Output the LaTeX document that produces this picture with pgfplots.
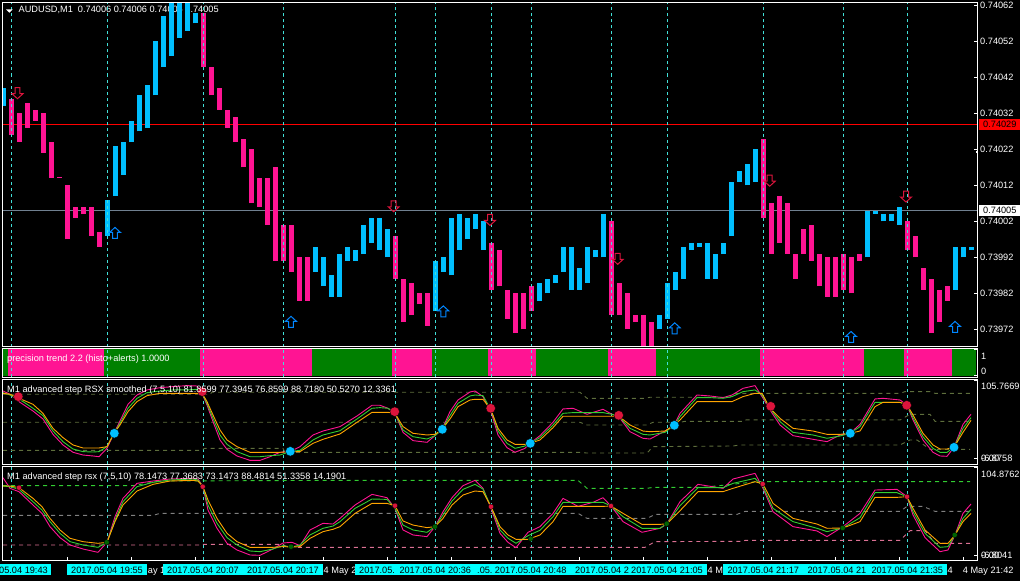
\documentclass[border=0pt]{standalone}
\usepackage{fontspec}
\setmainfont{Liberation Sans}
\usepackage{pgfplots}
\usepackage{pgfplotstable}
\pgfplotsset{compat=1.18}
\definecolor{barblue}{HTML}{00BFFF}
\definecolor{barpink}{HTML}{FF1493}
\definecolor{trgreen}{HTML}{008000}
\definecolor{vlinec}{HTML}{40E0D8}
\definecolor{lvolive}{HTML}{5E6E3C}
\definecolor{lvgreen}{HTML}{32CD32}
\definecolor{lvgray}{HTML}{808080}
\definecolor{lvpink}{HTML}{DB7093}
\definecolor{crimsonc}{HTML}{DC143C}
\definecolor{dkgreen}{HTML}{006400}
\definecolor{slategr}{HTML}{708090}
\definecolor{linegreen}{HTML}{32CD32}
\definecolor{lineorange}{HTML}{FFA500}
\definecolor{aquac}{HTML}{00FFFF}
\definecolor{purered}{HTML}{FF0000}
\newcommand\lab{\fontsize{9.2bp}{11bp}\selectfont}

\pgfdeclareplotmark{uparr}{%
  \pgfpathmoveto{\pgfqpoint{0pt}{5.5pt}}%
  \pgfpathlineto{\pgfqpoint{5.5pt}{0.5pt}}%
  \pgfpathlineto{\pgfqpoint{2.5pt}{0.5pt}}%
  \pgfpathlineto{\pgfqpoint{2.5pt}{-5.5pt}}%
  \pgfpathlineto{\pgfqpoint{-2.5pt}{-5.5pt}}%
  \pgfpathlineto{\pgfqpoint{-2.5pt}{0.5pt}}%
  \pgfpathlineto{\pgfqpoint{-5.5pt}{0.5pt}}%
  \pgfpathclose\pgfusepathqstroke}
\pgfdeclareplotmark{dnarr}{%
  \pgfpathmoveto{\pgfqpoint{0pt}{-5.5pt}}%
  \pgfpathlineto{\pgfqpoint{5.5pt}{-0.5pt}}%
  \pgfpathlineto{\pgfqpoint{2.5pt}{-0.5pt}}%
  \pgfpathlineto{\pgfqpoint{2.5pt}{5.5pt}}%
  \pgfpathlineto{\pgfqpoint{-2.5pt}{5.5pt}}%
  \pgfpathlineto{\pgfqpoint{-2.5pt}{-0.5pt}}%
  \pgfpathlineto{\pgfqpoint{-5.5pt}{-0.5pt}}%
  \pgfpathclose\pgfusepathqstroke}

\pgfplotstableread{
x lo hi
3.5 0.74034 0.74039
107.5 0.73998 0.74008
115.5 0.74009 0.74023
123.5 0.74015 0.74024
131.5 0.74024 0.74030
139.5 0.74027 0.74037
147.5 0.74028 0.74040
155.5 0.74037 0.74052
163.5 0.74045 0.74059
171.5 0.74048 0.74064
179.5 0.74053 0.74066
187.5 0.74055 0.74064
195.5 0.74057 0.74060
315.5 0.73988 0.73995
323.5 0.73984 0.73992
331.5 0.73981 0.73987
339.5 0.73981 0.73993
347.5 0.73991 0.73995
355.5 0.73991 0.73994
363.5 0.73993 0.74001
371.5 0.73996 0.74003
379.5 0.73994 0.74003
387.5 0.73992 0.74000
435.5 0.73977 0.73991
443.5 0.73988 0.73992
451.5 0.73987 0.74003
459.5 0.73994 0.74004
467.5 0.73997 0.74003
475.5 0.74000 0.74004
483.5 0.73994 0.74002
539.5 0.73980 0.73985
547.5 0.73982 0.73986
555.5 0.73985 0.73987
563.5 0.73988 0.73995
571.5 0.73983 0.73995
579.5 0.73983 0.73989
587.5 0.73985 0.73995
595.5 0.73992 0.73994
603.5 0.73992 0.74004
659.5 0.73972 0.73976
667.5 0.73975 0.73985
675.5 0.73983 0.73988
683.5 0.73986 0.73995
691.5 0.73994 0.73996
699.5 0.73995 0.73996
707.5 0.73986 0.73996
715.5 0.73986 0.73993
723.5 0.73993 0.73996
731.5 0.73998 0.74013
739.5 0.74013 0.74016
747.5 0.74012 0.74018
755.5 0.74013 0.74022
867.5 0.73992 0.74005
875.5 0.74004 0.74005
883.5 0.74002 0.74004
891.5 0.74002 0.74004
899.5 0.74001 0.74006
955.5 0.73983 0.73995
963.5 0.73992 0.73995
971.5 0.73994 0.73995
}\bluebars

\pgfplotstableread{
x lo hi
11.5 0.74026 0.74036
19.5 0.74024 0.74032
27.5 0.74028 0.74035
35.5 0.74030 0.74033
43.5 0.74021 0.74032
51.5 0.74014 0.74024
59.5 0.74014 0.740143
67.5 0.73997 0.74012
75.5 0.74003 0.74006
83.5 0.74004 0.74006
91.5 0.73998 0.74006
99.5 0.73995 0.73999
203.5 0.74045 0.74060
211.5 0.74037 0.74045
219.5 0.74033 0.74039
227.5 0.74028 0.74033
235.5 0.74024 0.74031
243.5 0.74017 0.74025
251.5 0.74007 0.74022
259.5 0.74006 0.74014
267.5 0.74001 0.74014
275.5 0.73991 0.74017
283.5 0.73991 0.74001
291.5 0.73988 0.74001
299.5 0.73980 0.73992
307.5 0.73980 0.73992
395.5 0.73986 0.73998
403.5 0.73974 0.73986
411.5 0.73976 0.73985
419.5 0.73979 0.73982
427.5 0.73973 0.73982
491.5 0.73983 0.73996
499.5 0.73984 0.73994
507.5 0.73975 0.73983
515.5 0.73971 0.73982
523.5 0.73972 0.73982
531.5 0.73977 0.73984
611.5 0.73976 0.74002
619.5 0.73976 0.73985
627.5 0.73972 0.73982
635.5 0.73974 0.73976
643.5 0.73966 0.73976
651.5 0.73966 0.73974
763.5 0.74003 0.74025
771.5 0.73993 0.74007
779.5 0.73996 0.74009
787.5 0.73993 0.74007
795.5 0.73986 0.73993
803.5 0.73993 0.74000
811.5 0.73991 0.74001
819.5 0.73984 0.73993
827.5 0.73981 0.73992
835.5 0.73981 0.73992
843.5 0.73983 0.73993
851.5 0.73982 0.73992
859.5 0.73991 0.73993
907.5 0.73994 0.74002
915.5 0.73992 0.73998
923.5 0.73983 0.73989
931.5 0.73971 0.73986
939.5 0.73974 0.73983
947.5 0.73980 0.73984
}\pinkbars

\pgfplotstableread{
x o g p
3 88.7 89.6 91.9
10 87.4 86.4 87.4
18 82.8 81.0 78.3
23 79.6 77.4 73.7
33 73.7 68.3 64.6
43 61.4 58.3 53.7
53 41.0 37.3 32.8
63 28.3 22.8 18.3
73 18.3 12.8 8.3
83 14.2 9.2 4.6
93 14.2 8.7 3.3
99 14.2 9.2 2.3
107 16.0 16.0 13.7
114 34.2 34.2 34.2
120 45.5 47.8 51.0
128 63.7 68.3 73.7
137 77.4 81.9 86.4
147 85.5 89.6 93.3
160 88.7 91.9 96.4
173 88.7 93.3 97.8
187 88.7 93.3 99.2
197 88.7 94.2 98.7
202 88.7 88.7 88.7
207 77.4 75.1 72.8
213 59.2 54.6 50.1
220 38.7 31.9 25.1
227 25.1 19.2 12.3
237 16.0 9.2 3.3
250 8.3 2.3 -2.7
260 8.3 2.3 -2.7
270 8.3 3.7 2.3
280 8.3 4.6 8.3
290 9.2 9.2 9.2
300 9.2 11.0 16.0
313 20.5 25.1 31.9
323 26.0 31.9 37.3
340 33.3 37.8 43.3
357 49.2 53.7 57.8
372 62.8 68.3 72.4
380 62.8 69.2 72.4
388 62.8 68.3 68.3
395 61.4 61.4 61.4
403 43.3 38.7 35.5
413 34.2 29.6 24.2
427 31.9 26.4 21.9
435 32.8 31.0 31.0
442 39.6 39.6 39.6
450 53.7 58.3 63.7
458 70.5 75.1 79.6
470 79.6 85.1 90.5
475 80.5 86.4 91.9
483 80.5 85.5 84.2
491 66.0 66.0 63.7
498 41.0 37.3 31.9
507 25.1 20.5 14.6
515 19.2 13.7 8.3
525 19.2 16.9 13.7
530 20.5 20.5 20.5
540 25.1 28.3 31.0
553 41.9 45.5 49.2
563 57.4 61.4 67.4
573 57.4 62.4 68.3
587 57.4 62.4 60.1
603 57.4 62.4 66.9
612 57.4 60.1 60.1
618 58.3 58.3 58.3
630 45.5 41.0 36.4
643 37.3 32.8 27.4
650 36.4 31.9 26.4
665 37.3 35.5 37.3
674 45.1 45.1 45.1
680 52.4 56.9 61.4
697 77.4 82.8 86.4
710 77.4 82.8 85.1
723 77.4 81.9 82.8
732 77.4 84.2 86.4
743 84.2 91.0 95.5
755 88.7 93.3 99.2
762 88.7 86.4 84.2
770 68.3 68.3 66.0
780 54.6 50.1 45.5
793 41.0 35.5 31.0
813 37.3 31.9 26.0
827 32.8 27.4 22.8
840 32.8 30.5 31.9
850 34.2 34.2 34.2
860 37.3 43.3 46.4
875 70.5 76.4 81.0
883 76.4 76.4 81.9
900 76.4 76.4 79.6
907 72.8 72.8 72.8
913 59.2 55.5 52.4
923 34.2 29.6 25.1
933 18.3 13.7 8.3
940 12.8 8.3 3.3
947 12.8 8.3 2.8
954 15.1 15.1 15.1
963 35.5 41.0 46.4
971 51.9 55.5 60.1
}\rsxsmoothed

\pgfplotstableread{
x o g p
3 82.9 82.9 92.9
10 82.9 82.1 80.1
19 80.9 78.9 76.1
33 68.1 64.1 60.1
42 58.1 54.1 50.1
50 44.1 40.2 34.2
60 30.2 26.2 21.0
70 20.2 16.2 12.2
83 16.2 12.2 7.4
98 14.2 9.4 3.4
107 15.4 15.4 15.4
115 40.2 42.1 46.1
123 60.1 64.1 68.1
137 76.9 82.1 86.1
153 84.9 87.3 88.9
170 88.9 90.1 91.3
193 89.7 91.3 92.1
198 88.9 90.1 91.3
203 82.1 82.1 82.1
208 66.1 60.1 54.1
217 44.1 38.2 32.2
227 26.2 21.0 14.2
237 16.2 12.2 6.2
250 9.4 5.0 0.2
260 9.4 4.2 -0.2
273 9.4 7.4 7.4
283 10.2 11.4 14.6
292 9.8 9.8 15.4
300 10.2 12.2 11.4
310 20.2 24.2 30.2
323 28.2 32.2 38.2
333 31.0 34.9 37.3
340 34.2 40.2 44.1
355 50.1 56.1 60.1
372 62.1 67.3 72.9
387 62.1 66.9 68.9
395 59.3 56.1 56.1
403 41.0 36.1 30.2
413 36.1 30.2 24.2
427 33.0 27.4 22.2
435 34.2 34.2 34.2
443 44.1 48.1 52.1
452 60.1 64.9 68.9
463 72.1 78.9 83.3
475 76.9 84.9 89.7
483 76.1 79.3 80.1
491 58.1 58.1 56.1
500 34.2 30.2 26.2
508 24.2 20.2 15.4
516 19.0 14.2 9.0
528 19.0 23.4 27.4
540 24.2 29.8 34.2
553 40.2 46.1 50.1
563 58.5 63.3 68.1
578 58.5 63.3 58.5
593 58.5 63.3 63.3
603 58.5 63.3 68.9
611 58.9 58.9 58.9
623 50.1 46.1 40.2
642 36.9 32.2 27.4
660 36.9 32.2 32.2
667 37.7 37.7 37.7
680 53.3 59.3 64.1
698 76.1 80.9 84.9
723 76.1 80.9 80.1
733 80.1 86.1 91.3
755 88.1 92.1 98.1
763 85.3 82.1 80.1
773 62.1 56.1 52.1
793 44.1 40.2 34.2
817 37.3 32.2 29.0
827 32.2 28.2 22.2
843 32.6 32.6 34.2
860 40.2 44.9 50.1
875 69.3 74.9 78.1
897 69.3 74.9 78.9
907 70.1 70.1 70.1
913 56.1 52.1 48.1
925 30.2 26.2 21.0
940 14.2 9.4 4.2
948 14.2 10.2 6.2
955 24.2 24.2 24.2
963 40.2 44.1 50.1
971 50.1 54.9 61.3
}\rsxplain

\pgfplotsset{panel/.style={scale only axis, width=974.5bp, xmin=2.5, xmax=977,
  axis line style={white,line width=1bp}, tick style={white,line width=1bp},
  major tick length=3bp, xtick=\empty, ytick pos=right, clip mode=individual, anchor=north west},
  vline/.style={vlinec,line width=1.1bp,dash pattern=on 3bp off 3bp},
  lev/.style={line width=0.9bp,dash pattern=on 4bp off 4bp,forget plot},
  ind/.style={line width=0.9bp,forget plot,line join=round}}
\newcommand\vl[2]{\pgfplotsinvokeforeach{11.5,107.5,203.5,283.5,395.5,435.5,491.5,531.5,611.5,667.5,763.5,843.5,907.5}{\addplot[vline,forget plot] coordinates {(##1,#1)(##1,#2)};}}
\newcommand\seg[3]{\addplot[fill=#1,draw=none,forget plot] coordinates {(#2,0)(#2,1)(#3,1)(#3,0)} --cycle;}
\newcommand\tl[3]{\node[anchor=base west,text=white,inner sep=0pt,font=\lab] at (#1bp,-#2bp) {#3};}
\newcommand\tk[3]{\node[anchor=base west,text=black,inner sep=0pt,font=\lab] at (#1bp,-#2bp) {#3};}

\begin{document}
\begin{tikzpicture}[x=1bp,y=1bp]
\path[use as bounding box] (0,0) rectangle (1020bp,-581bp);
\fill[black] (0,0) rectangle (1020bp,-581bp);

%% main price panel
\begin{axis}[panel, at={(2.5bp,-2.5bp)}, height=344bp, axis on top,
  ymin=0.7396725, ymax=0.740628,
  ytick={0.73972,0.73982,0.73992,0.74002,0.74012,0.74022,0.74032,0.74042,0.74052,0.74062},
  yticklabels={0.73972,0.73982,0.73992,0.74002,0.74012,0.74022,0.74032,0.74042,0.74052,0.74062},
  yticklabel style={font=\lab,text=white,inner sep=0pt,xshift=3bp}]
\node[anchor=base west,text=white,inner sep=0pt,font=\lab] at (axis cs:18.5,0.740600) {AUDUSD,M1\ \ 0.74006 0.74006 0.74005 0.74005};
\addplot[purered,line width=1.2bp,forget plot] coordinates {(2.5,0.74029)(977,0.74029)};
\addplot[slategr,line width=1.2bp,forget plot] coordinates {(2.5,0.74005)(977,0.74005)};
\addplot[draw=none,forget plot,error bars/.cd,y dir=plus,y explicit,error mark=none,
  error bar style={line width=5bp,color=barblue}]
  table[x=x,y=lo,y error expr=\thisrow{hi}-\thisrow{lo}] {\bluebars};
\addplot[draw=none,forget plot,error bars/.cd,y dir=plus,y explicit,error mark=none,
  error bar style={line width=5bp,color=barpink}]
  table[x=x,y=lo,y error expr=\thisrow{hi}-\thisrow{lo}] {\pinkbars};
\vl{0.7396725}{0.740628}
\addplot[only marks,mark=dnarr,mark options={draw=crimsonc,line width=1bp},forget plot] coordinates
 {(17.5,0.740376)(393.7,0.740062)(490,0.740024)(617.7,0.739916)(769.7,0.740133)(906,0.740089)};
\addplot[only marks,mark=uparr,mark options={draw=barblue!70!blue,line width=1bp},forget plot] coordinates
 {(115,0.739988)(291,0.739741)(443.3,0.73977)(674.7,0.739723)(851,0.739699)(955,0.739727)};
\end{axis}

%% trend histogram
\begin{axis}[panel, at={(2.5bp,-348bp)}, height=29bp, ymin=-0.04, ymax=1.04, ytick={1,0}, yticklabels={,}, axis on top]
\seg{trgreen}{2.5}{7.5}
\seg{barpink}{7.5}{103.5}
\seg{trgreen}{103.5}{199.5}
\seg{barpink}{199.5}{311.5}
\seg{trgreen}{311.5}{391.5}
\seg{barpink}{391.5}{431.5}
\seg{trgreen}{431.5}{487.5}
\seg{barpink}{487.5}{535.5}
\seg{trgreen}{535.5}{607.5}
\seg{barpink}{607.5}{655.5}
\seg{trgreen}{655.5}{759.5}
\seg{barpink}{759.5}{863.5}
\seg{trgreen}{863.5}{903.5}
\seg{barpink}{903.5}{951.5}
\seg{trgreen}{951.5}{975.5}
\vl{-0.04}{1.04}
\end{axis}

%% RSX smoothed
\begin{axis}[panel, at={(2.5bp,-379.3bp)}, height=84.7bp, ymin=-7.65, ymax=107.8, ytick={105.7669,0}, yticklabels={,}, axis on top]
\vl{-7.65}{107.8}
\addplot[lev,lvolive] coordinates {(3,87.4)(210,87.4)(212,90.1)(580,90.1)(587,81.9)(645,81.9)(650,83.3)(730,83.3)(735,88.7)(900,88.7)(905,91)(930,91)(935,88.7)(970,88.7)};
\addplot[lev,lvolive] coordinates {(3,49.2)(580,49.2)(587,45.5)(647,45.5)(653,49.2)(680,49.2)(685,50.5)(743,50.5)(746,52.4)(900,52.4)(910,60.1)(930,60.1)(935,50.5)(970,50.5)};
\addplot[lev,lvolive] coordinates {(3,11)(200,11)(205,13.7)(283,13.7)(285,8.3)(580,8.3)(587,7.3)(647,7.3)(653,16)(733,16.9)(740,18.3)(900,18.3)(910,25.1)(917,25.1)(930,12.3)(970,12.3)};
\addplot[ind,barpink] table[x=x,y=p] {\rsxsmoothed};
\addplot[ind,linegreen] table[x=x,y=g] {\rsxsmoothed};
\addplot[ind,lineorange] table[x=x,y=o] {\rsxsmoothed};
\addplot[only marks,mark=*,mark size=4.8bp,mark options={fill=crimsonc,draw=none},forget plot] coordinates
 {(18.3,84.2)(202.3,91.0)(394.7,63.7)(490.7,68.3)(618.7,58.7)(770.7,71)(906.7,72.4)};
\addplot[only marks,mark=*,mark size=4.8bp,mark options={fill=barblue,draw=none},forget plot] coordinates
 {(114.3,34.2)(290.3,9.6)(442.3,39.6)(530.3,20.5)(674.3,45.1)(850.3,34.2)(954,15.1)};
\end{axis}

%% RSX
\begin{axis}[panel, at={(2.5bp,-466.7bp)}, height=93.6bp, ymin=-6.17, ymax=106.05, ytick={104.8762,0}, yticklabels={,}, axis on top,
  xtick={67,131,195,259,323,387,451,515,579,643,707,771,835,899,963}, xticklabels={}, xtick pos=bottom]
\vl{-6.17}{106.05}
\addplot[lev,lvgreen] coordinates {(3,83.3)(133,83.3)(160,88.9)(340,89.7)(578,89.7)(587,80.1)(647,80.1)(653,81.3)(703,81.3)(757,88.1)(970,88.1)};
\addplot[lev,lvgray] coordinates {(3,47.7)(153,47.7)(160,50.1)(578,50.1)(587,44.1)(647,44.1)(655,48.9)(737,48.9)(745,52.5)(900,52.5)(907,58.5)(923,58.5)(935,52.5)(970,52.5)};
\addplot[lev,lvpink] coordinates {(3,12.2)(200,12.2)(203,13)(283,13)(287,9.4)(645,9.4)(655,16.2)(743,16.6)(745,17.8)(900,17.8)(910,29.4)(925,29.4)(935,14.2)(970,14.2)};
\addplot[ind,barpink] table[x=x,y=p] {\rsxplain};
\addplot[ind,linegreen] table[x=x,y=g] {\rsxplain};
\addplot[ind,lineorange] table[x=x,y=o] {\rsxplain};
\addplot[only marks,mark=*,mark size=2.7bp,mark options={fill=crimsonc,draw=none},forget plot] coordinates
 {(19,80.9)(202.7,82.1)(395,59.3)(491,58.1)(611,58.9)(762.7,85.3)(907,70.1)};
\addplot[only marks,mark=*,mark size=2.7bp,mark options={fill=dkgreen,draw=none},forget plot] coordinates
 {(106.7,15.4)(291,10.2)(435,34.2)(530.7,19.8)(666.7,37.7)(842.7,32.6)(954.7,24.2)};
\end{axis}

%% annotations
\fill[white] (6bp,-9.3bp) -- (12.7bp,-9.3bp) -- (9.3bp,-12.7bp) -- cycle;
\fill[white] (976bp,-151bp) rectangle (978bp,-153bp);
\fill[purered] (979bp,-118.7bp) rectangle (1020bp,-129.7bp);
\tk{983}{127.5}{0.74029}
\fill[white] (979bp,-205bp) rectangle (1020bp,-216bp);
\tk{983}{213.7}{0.74005}
\tl{7}{361}{precision trend 2.2 (histo+alerts) 1.0000}
\tl{7}{392}{M1 advanced step RSX smoothed (7,5,10) 81.8599 77.3945 76.8599 88.7180 50.5270 12.3361}
\tl{7}{479}{M1 advanced step rsx (7,5,10) 78.1473 77.3683 73.1473 88.4814 51.3358 14.1901}
\tl{981}{359}{1}
\tl{981}{374}{0}
\tl{981}{389.5}{105.7669}
\tl{981}{461}{-6.8758}
\tl{981}{461}{0.00}
\tl{981}{477}{104.8762}
\tl{981}{558}{-6.8041}
\tl{981}{558}{0.00}
%% time axis
\tl{147.7}{573.7}{ay 1}
\tl{323.5}{573.7}{4 May 2}
\tl{707.5}{573.7}{4 M}
\tl{947.5}{573.7}{4}
\tl{962.7}{573.7}{4 May 21:42}
\fill[aquac] (0,-564bp) rectangle (51bp,-575bp);
\fill[aquac] (67bp,-564bp) rectangle (147bp,-575bp);
\fill[aquac] (163bp,-564bp) rectangle (323bp,-575bp);
\fill[aquac] (355bp,-564bp) rectangle (707bp,-575bp);
\fill[aquac] (723bp,-564bp) rectangle (947bp,-575bp);
\tk{-1}{573.7}{05.04 19:43}
\tk{71}{573.7}{2017.05.04 19:55}
\tk{167}{573.7}{2017.05.04 20:07}
\tk{247}{573.7}{2017.05.04 20:17}
\tk{359}{573.7}{2017.05.}
\tk{399.3}{573.7}{2017.05.04 20:36}
\tk{477}{573.7}{.05.}
\tk{494.7}{573.7}{2017.05.04 20:48}
\tk{575}{573.7}{2017.05.04 2}
\tk{631}{573.7}{2017.05.04 21:05}
\tk{727.3}{573.7}{2017.05.04 21:17}
\tk{807.3}{573.7}{2017.05.04 21}
\tk{871.3}{573.7}{2017.05.04 21:35}
\end{tikzpicture}
\end{document}
